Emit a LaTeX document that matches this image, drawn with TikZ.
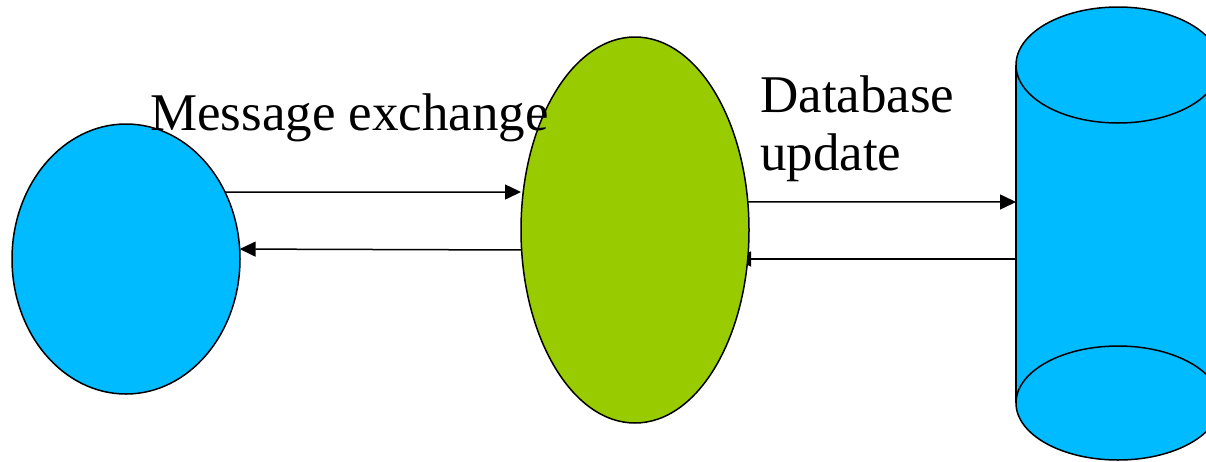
\documentclass[tikz,border=0pt]{standalone}
\usepackage{fontspec}
\setmainfont{Liberation Serif}
\usetikzlibrary{shapes.geometric,arrows.meta}
\definecolor{cblue}{HTML}{00BBFF}
\definecolor{cgreen}{HTML}{99CC00}
\begin{document}
\begin{tikzpicture}[x=1pt,y=-1pt,
  blob/.style={ellipse,draw=black,line width=1.5pt,inner sep=0pt,outer sep=0pt},
  conn/.style={line width=1.5pt,-{Triangle[length=16pt,width=15pt]}},
  lbl/.style={inner sep=0pt,font=\fontsize{53}{58}\selectfont,align=left}]
\useasboundingbox (0,0) rectangle (1206,461);
% cylinder (database)
\fill[cblue] (1016,65) rectangle (1222,403);
\draw[line width=1.5pt] (1016,65) -- (1016,403);
\draw[line width=1.5pt] (1220,65) -- (1220,403);
\draw[line width=1.5pt,fill=cblue] (1118,403) ellipse [x radius=102, y radius=57];
\draw[line width=1.5pt,fill=cblue] (1118,65) ellipse [x radius=102, y radius=58];
\coordinate (C1) at (1016,202);
\coordinate (C2) at (1016,259);
% nodes
\node[blob,fill=cblue,minimum width=228pt,minimum height=270pt] (L) at (126,259) {};
\path (635,230) coordinate (gc);
% connectors drawn under green ellipse
\draw[conn] (L.34) -- (521,192) coordinate (g1);
\draw[conn] (C2) -- (735,259);
\node[blob,fill=cgreen,minimum width=228pt,minimum height=386pt] (G) at (gc) {};
\draw[conn] (G.190) -- (L.5);
\draw[conn] (G.14) -- (C1);
% labels
\node[lbl,anchor=base west] (m) at (150,130) {Message exchange};
\node[lbl,anchor=base west] (d) at (760,170) {Database\\update};
\end{tikzpicture}
\end{document}
